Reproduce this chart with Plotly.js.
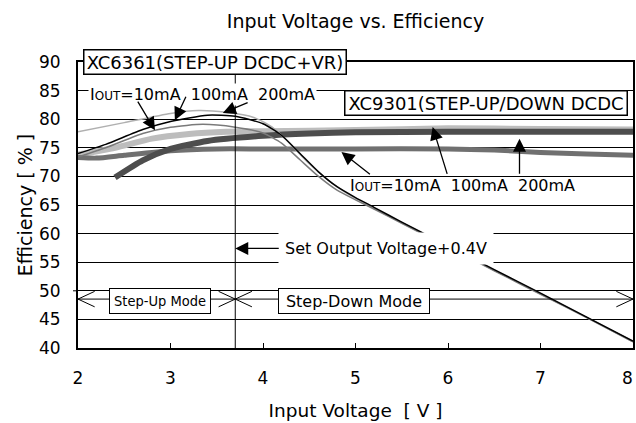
<!DOCTYPE html>
<html><head><meta charset="utf-8">
<script src="https://cdn.plot.ly/plotly-3.0.1.min.js"></script>
<style>html,body{margin:0;padding:0;background:#fff}#chart{width:636px;height:423px}</style>
</head><body><div id="chart"></div>
<script>
// XC6361 (STEP-UP DCDC+VR) curves
const xc6361_10mA_x  = [2.0, 2.5, 3.0, 3.3, 3.6, 3.9, 4.1, 4.3, 4.5, 4.7, 4.9, 5.1, 5.5, 6.0, 6.5, 7.0, 7.5, 8.0];
const xc6361_10mA_y  = [77.8, 79.4, 81.0, 81.5, 81.2, 80.3, 78.6, 75.6, 72.2, 69.4, 67.1, 65.3, 61.9, 57.8, 53.6, 49.5, 45.3, 41.1];
const xc6361_100mA_x = [2.0, 2.3, 2.7, 3.0, 3.4, 3.7, 4.0, 4.2, 4.4, 4.6, 4.8, 5.0, 5.2, 5.5, 6.0, 6.5, 7.0, 7.5, 8.0];
const xc6361_100mA_y = [74.0, 75.6, 78.2, 79.6, 80.7, 80.5, 79.2, 77.2, 74.0, 70.8, 68.2, 66.3, 64.6, 62.0, 57.9, 53.7, 49.6, 45.4, 41.2];
const xc6361_200mA_x = [2.0, 2.3, 2.7, 3.0, 3.35, 3.7, 4.0, 4.2, 4.4, 4.6, 4.8, 5.0, 5.2, 5.5, 6.0, 6.5, 7.0, 7.5, 8.0];
const xc6361_200mA_y = [73.4, 75.0, 77.5, 78.6, 79.1, 78.6, 77.6, 75.8, 72.9, 70.0, 67.6, 65.9, 64.3, 61.8, 57.7, 53.5, 49.4, 45.3, 41.1];
// XC9301 (STEP-UP/DOWN DCDC) curves
const xc9301_10mA_x  = [2.0, 2.2, 2.5, 3.0, 3.5, 4.0, 5.0, 6.0, 6.5, 7.0, 7.5, 8.0];
const xc9301_10mA_y  = [73.3, 73.2, 73.7, 74.5, 74.8, 74.8, 74.8, 74.8, 74.6, 74.2, 73.9, 73.7];
const xc9301_100mA_x = [2.0, 2.4, 2.8, 3.2, 3.6, 4.0, 5.0, 6.0, 7.0, 8.0];
const xc9301_100mA_y = [73.8, 75.0, 76.6, 77.4, 77.8, 77.9, 78.1, 78.4, 78.3, 78.2];
const xc9301_200mA_x = [2.4, 2.7, 3.0, 3.4, 4.0, 4.5, 5.0, 6.0, 7.0, 8.0];
const xc9301_200mA_y = [69.8, 72.8, 74.8, 76.2, 77.1, 77.5, 77.7, 77.8, 77.8, 77.8];
// reference voltage, axes & tick labels
const setVoltage = 3.7;
const xRange = [2, 8];
const yRange = [40, 90];
const xTickVals = [2, 3, 4, 5, 6, 7, 8];
const xTickText = ['2', '3', '4', '5', '6', '7', ''];   // last label drawn flush with the right edge below
const xLastLabel = '8';

const F = 'DejaVu Sans, Arial, sans-serif';
const NARROW = 'DejaVu Sans Condensed, Liberation Sans Narrow, Arial Narrow, sans-serif';
const nb = '\u00a0';

function tr(x, y, color, width) {
  return {x: x, y: y, type: 'scatter', mode: 'lines', hoverinfo: 'skip',
          line: {color: color, width: width, shape: 'spline', smoothing: 0.6}};
}
const data = [
  tr(xc9301_100mA_x, xc9301_100mA_y, '#bdbdbd', 6),
  tr(xc9301_10mA_x,  xc9301_10mA_y,  '#707070', 5),
  tr(xc9301_200mA_x, xc9301_200mA_y, '#4d4d4d', 6),
  tr(xc6361_10mA_x,  xc6361_10mA_y,  '#b0b0b0', 1.5),
  tr(xc6361_200mA_x, xc6361_200mA_y, '#7a7a7a', 1.5),
  tr(xc6361_100mA_x, xc6361_100mA_y, '#000000', 1.5)
];

const modeY = 48.55, chx = 0.18, chy = 1.35;
function chevron(tipX, dir) { // dir=-1 points left, +1 points right
  const bx = tipX - dir * chx;
  return {type: 'path', xref: 'x', yref: 'y', line: {color: '#000', width: 1},
          path: `M${bx},${modeY + chy} L${tipX},${modeY} L${bx},${modeY - chy}`};
}
const shapes = [
  {type: 'line', xref: 'x', yref: 'y', x0: setVoltage, x1: setVoltage, y0: yRange[0], y1: yRange[1], line: {color: '#000', width: 1}},
  {type: 'line', xref: 'x', yref: 'y', x0: xRange[0], x1: xRange[1], y0: modeY, y1: modeY, line: {color: '#000', width: 1}},
  chevron(xRange[0], -1), chevron(setVoltage, 1), chevron(setVoltage, -1), chevron(xRange[1], 1),
  {type: 'line', xref: 'paper', yref: 'y', x0: -0.009, x1: 0, y0: 50, y1: 50, line: {color: '#000', width: 1}}
];

function arrow(tx, ty, axv, ayv) {
  return {x: tx, y: ty, ax: axv, ay: ayv, axref: 'x', ayref: 'y', xref: 'x', yref: 'y', text: '',
          showarrow: true, arrowhead: 2, arrowsize: 2, arrowwidth: 1.3, arrowcolor: '#000'};
}
const iout = 'I<span style="font-size:12px">OUT</span>=10mA' + nb + nb + '100mA' + nb + nb + '200mA';
const annotations = [
  {x: 3.485, y: 1.0448, xref: 'x', yref: 'paper', text: 'XC6361(STEP-UP DCDC+VR)', showarrow: false,
   font: {family: F, size: 18, color: '#000'}, bgcolor: '#fff', bordercolor: '#000', borderwidth: 1.5,
   borderpad: 1, width: 259, height: 21},
  {x: 3.35, y: 84.4, xref: 'x', yref: 'y', text: iout, showarrow: false,
   font: {family: F, size: 16, color: '#000'}, bgcolor: '#fff', borderpad: 1},
  {x: 6.406, y: 82.8, xref: 'x', yref: 'y', text: 'XC9301(STEP-UP/DOWN DCDC', showarrow: false,
   font: {family: F, size: 18, color: '#000'}, bgcolor: '#fff', bordercolor: '#000', borderwidth: 1.5,
   borderpad: 1, width: 279, height: 21},
  {x: 6.152, y: 68.4, xref: 'x', yref: 'y', text: iout, showarrow: false,
   font: {family: F, size: 16, color: '#000'}},
  {x: setVoltage, y: 57.4, xref: 'x', yref: 'y', ax: 151, ay: 0, text: 'Set Output Voltage+0.4V',
   showarrow: true, arrowhead: 2, arrowsize: 2, arrowwidth: 1.3, arrowcolor: '#000', borderpad: 6,
   bgcolor: '#fff', font: {family: F, size: 16, color: '#000'}},
  {x: 2.886, y: 48.25, xref: 'x', yref: 'y', text: 'Step-Up Mode', showarrow: false,
   font: {family: NARROW, size: 14.5, color: '#000'}, bgcolor: '#fff', bordercolor: '#000', borderwidth: 1,
   borderpad: 1, width: 98, height: 22},
  {x: 4.98, y: 48.25, xref: 'x', yref: 'y', text: 'Step-Down Mode', showarrow: false,
   font: {family: F, size: 16, color: '#000'}, bgcolor: '#fff', bordercolor: '#000', borderwidth: 1,
   borderpad: 1, width: 148, height: 22},
  {x: xRange[1], y: -0.105, xref: 'x', yref: 'paper', text: xLastLabel, showarrow: false,
   xanchor: 'right', yanchor: 'middle', xshift: 1, borderpad: 0, font: {family: F, size: 17, color: '#000'}},
  arrow(2.832, 78.07, 2.637, 83.33),
  arrow(3.047, 79.82, 3.174, 84.2),
  arrow(3.566, 81.1, 3.85, 83.0),
  arrow(4.848, 74.26, 5.172, 70.18),
  arrow(5.834, 78.65, 5.996, 70.18),
  arrow(6.773, 76.6, 6.773, 70.18)
];

const layout = {
  width: 636, height: 423,
  margin: {l: 78, r: 3, t: 62, b: 75},
  paper_bgcolor: '#fff', plot_bgcolor: '#fff',
  showlegend: false,
  font: {family: F, color: '#000', size: 17},
  title: {text: 'Input Voltage vs. Efficiency', font: {family: F, size: 19, color: '#000'},
          x: 0.5, xref: 'paper', y: 0.95, yref: 'container', yanchor: 'middle'},
  xaxis: {range: xRange, tickmode: 'array', tickvals: xTickVals, ticktext: xTickText,
          ticks: 'inside', ticklen: 5, tickwidth: 1, tickcolor: '#000',
          showline: true, linewidth: 2, linecolor: '#000', mirror: true, showgrid: false, zeroline: false,
          tickfont: {family: F, size: 17}, ticklabelstandoff: 14, ticklabeloverflow: 'allow',
          title: {text: 'Input Voltage' + nb + nb + '[ V ]', font: {family: F, size: 18.5}, standoff: 17}},
  yaxis: {range: yRange, tick0: 40, dtick: 5, ticks: '', showgrid: true, gridcolor: '#000', gridwidth: 1,
          showline: true, linewidth: 2, linecolor: '#000', mirror: true, zeroline: false,
          tickfont: {family: F, size: 17}, ticklabelstandoff: 12, ticklabeloverflow: 'allow',
          title: {text: 'Efficiency [ % ]', font: {family: F, size: 19}, standoff: 1}},
  shapes: shapes,
  annotations: annotations
};
Plotly.newPlot('chart', data, layout, {staticPlot: true, displayModeBar: false});
</script></body></html>
